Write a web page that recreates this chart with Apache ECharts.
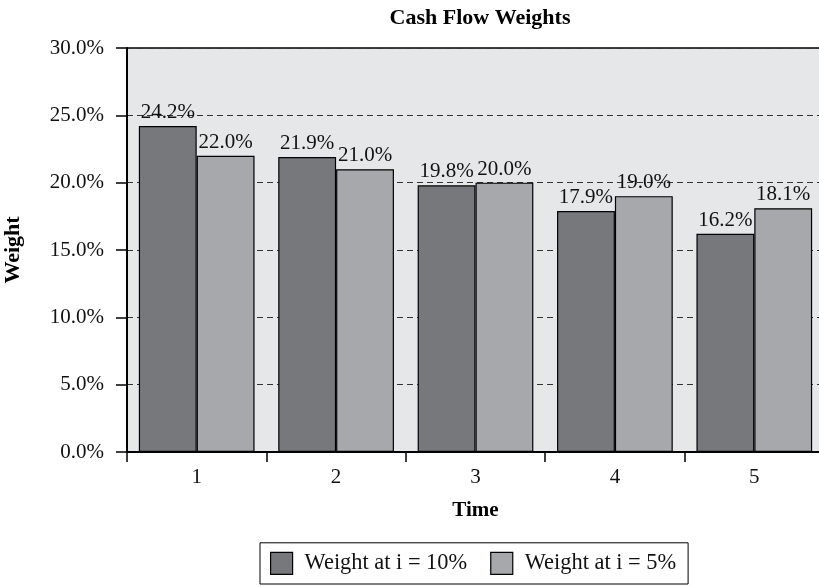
<!DOCTYPE html>
<html>
<head>
<meta charset="utf-8">
<script src="https://cdn.jsdelivr.net/npm/echarts@6/dist/echarts.min.js"></script>
<style>
  html, body { margin: 0; padding: 0; background: #fff; overflow: hidden; }
  #main { width: 819px; height: 586px; }
</style>
</head>
<body>
<div id="main"></div>
<script>
// data
const times = ['1', '2', '3', '4', '5'];
const weight10 = [24.2, 21.9, 19.8, 17.9, 16.2];
const weight5 = [22.0, 21.0, 20.0, 19.0, 18.1];
const seriesNames = ['Weight at i = 10%', 'Weight at i = 5%'];

const font = 'Liberation Serif';
const chart = echarts.init(document.getElementById('main'), null, { renderer: 'canvas' });

function barSeries(name, values, color) {
  return {
    name: name,
    type: 'bar',
    data: values,
    barGap: '0%',
    barCategoryGap: '17%',
    itemStyle: { color: color, borderColor: '#000', borderWidth: 1.2 },
    label: {
      show: true,
      position: 'top',
      distance: 3,
      color: '#111',
      fontFamily: font,
      fontSize: 21,
      formatter: p => p.value.toFixed(1) + '%'
    }
  };
}

const option = {
  animation: false,
  title: {
    text: 'Cash Flow Weights',
    left: 475,
    top: 2,
    textAlign: 'center',
    textStyle: { fontFamily: font, fontWeight: 'bold', fontSize: 22, color: '#000' }
  },
  legend: {
    bottom: 2,
    left: 260,
    data: seriesNames,
    icon: 'rect',
    itemWidth: 22,
    itemHeight: 22,
    itemGap: 23,
    padding: [9, 12, 9, 10],
    borderColor: '#000',
    borderWidth: 1,
    backgroundColor: '#fff',
    textStyle: { fontFamily: font, fontSize: 22.4, color: '#111', padding: [0, 0, 0, 7] },
    itemStyle: { borderColor: '#000', borderWidth: 1.2 }
  },
  grid: {
    left: 127,
    right: -5,
    top: 48,
    bottom: 134,
    containLabel: false,
    outerBoundsMode: 'none',
    show: true,
    backgroundColor: '#e6e7e8',
    borderColor: '#000',
    borderWidth: 1.5
  },
  xAxis: {
    type: 'category',
    data: times,
    name: 'Time',
    nameLocation: 'middle',
    nameGap: 48,
    nameTextStyle: { fontFamily: font, fontWeight: 'bold', fontSize: 21, color: '#000' },
    axisLine: { lineStyle: { color: '#000', width: 2 } },
    axisTick: { show: true, length: 10, lineStyle: { color: '#000', width: 1.5 } },
    axisLabel: { fontFamily: font, fontSize: 21, color: '#111', margin: 15 }
  },
  yAxis: {
    type: 'value',
    min: 0,
    max: 30,
    interval: 5,
    name: 'Weight',
    nameLocation: 'middle',
    nameGap: 103,
    nameTextStyle: { fontFamily: font, fontWeight: 'bold', fontSize: 22, color: '#000' },
    axisLine: { show: true, lineStyle: { color: '#000', width: 2 } },
    axisTick: { show: true, length: 11, lineStyle: { color: '#000', width: 1.5 } },
    axisLabel: {
      fontFamily: font, fontSize: 21, color: '#111', margin: 23,
      formatter: v => v.toFixed(1) + '%'
    },
    splitLine: { show: true, lineStyle: { color: '#333', width: 1, type: [6, 4] } }
  },
  series: [
    barSeries(seriesNames[0], weight10, '#77787c'),
    barSeries(seriesNames[1], weight5, '#a7a8ab')
  ]
};

chart.setOption(option);
</script>
</body>
</html>
